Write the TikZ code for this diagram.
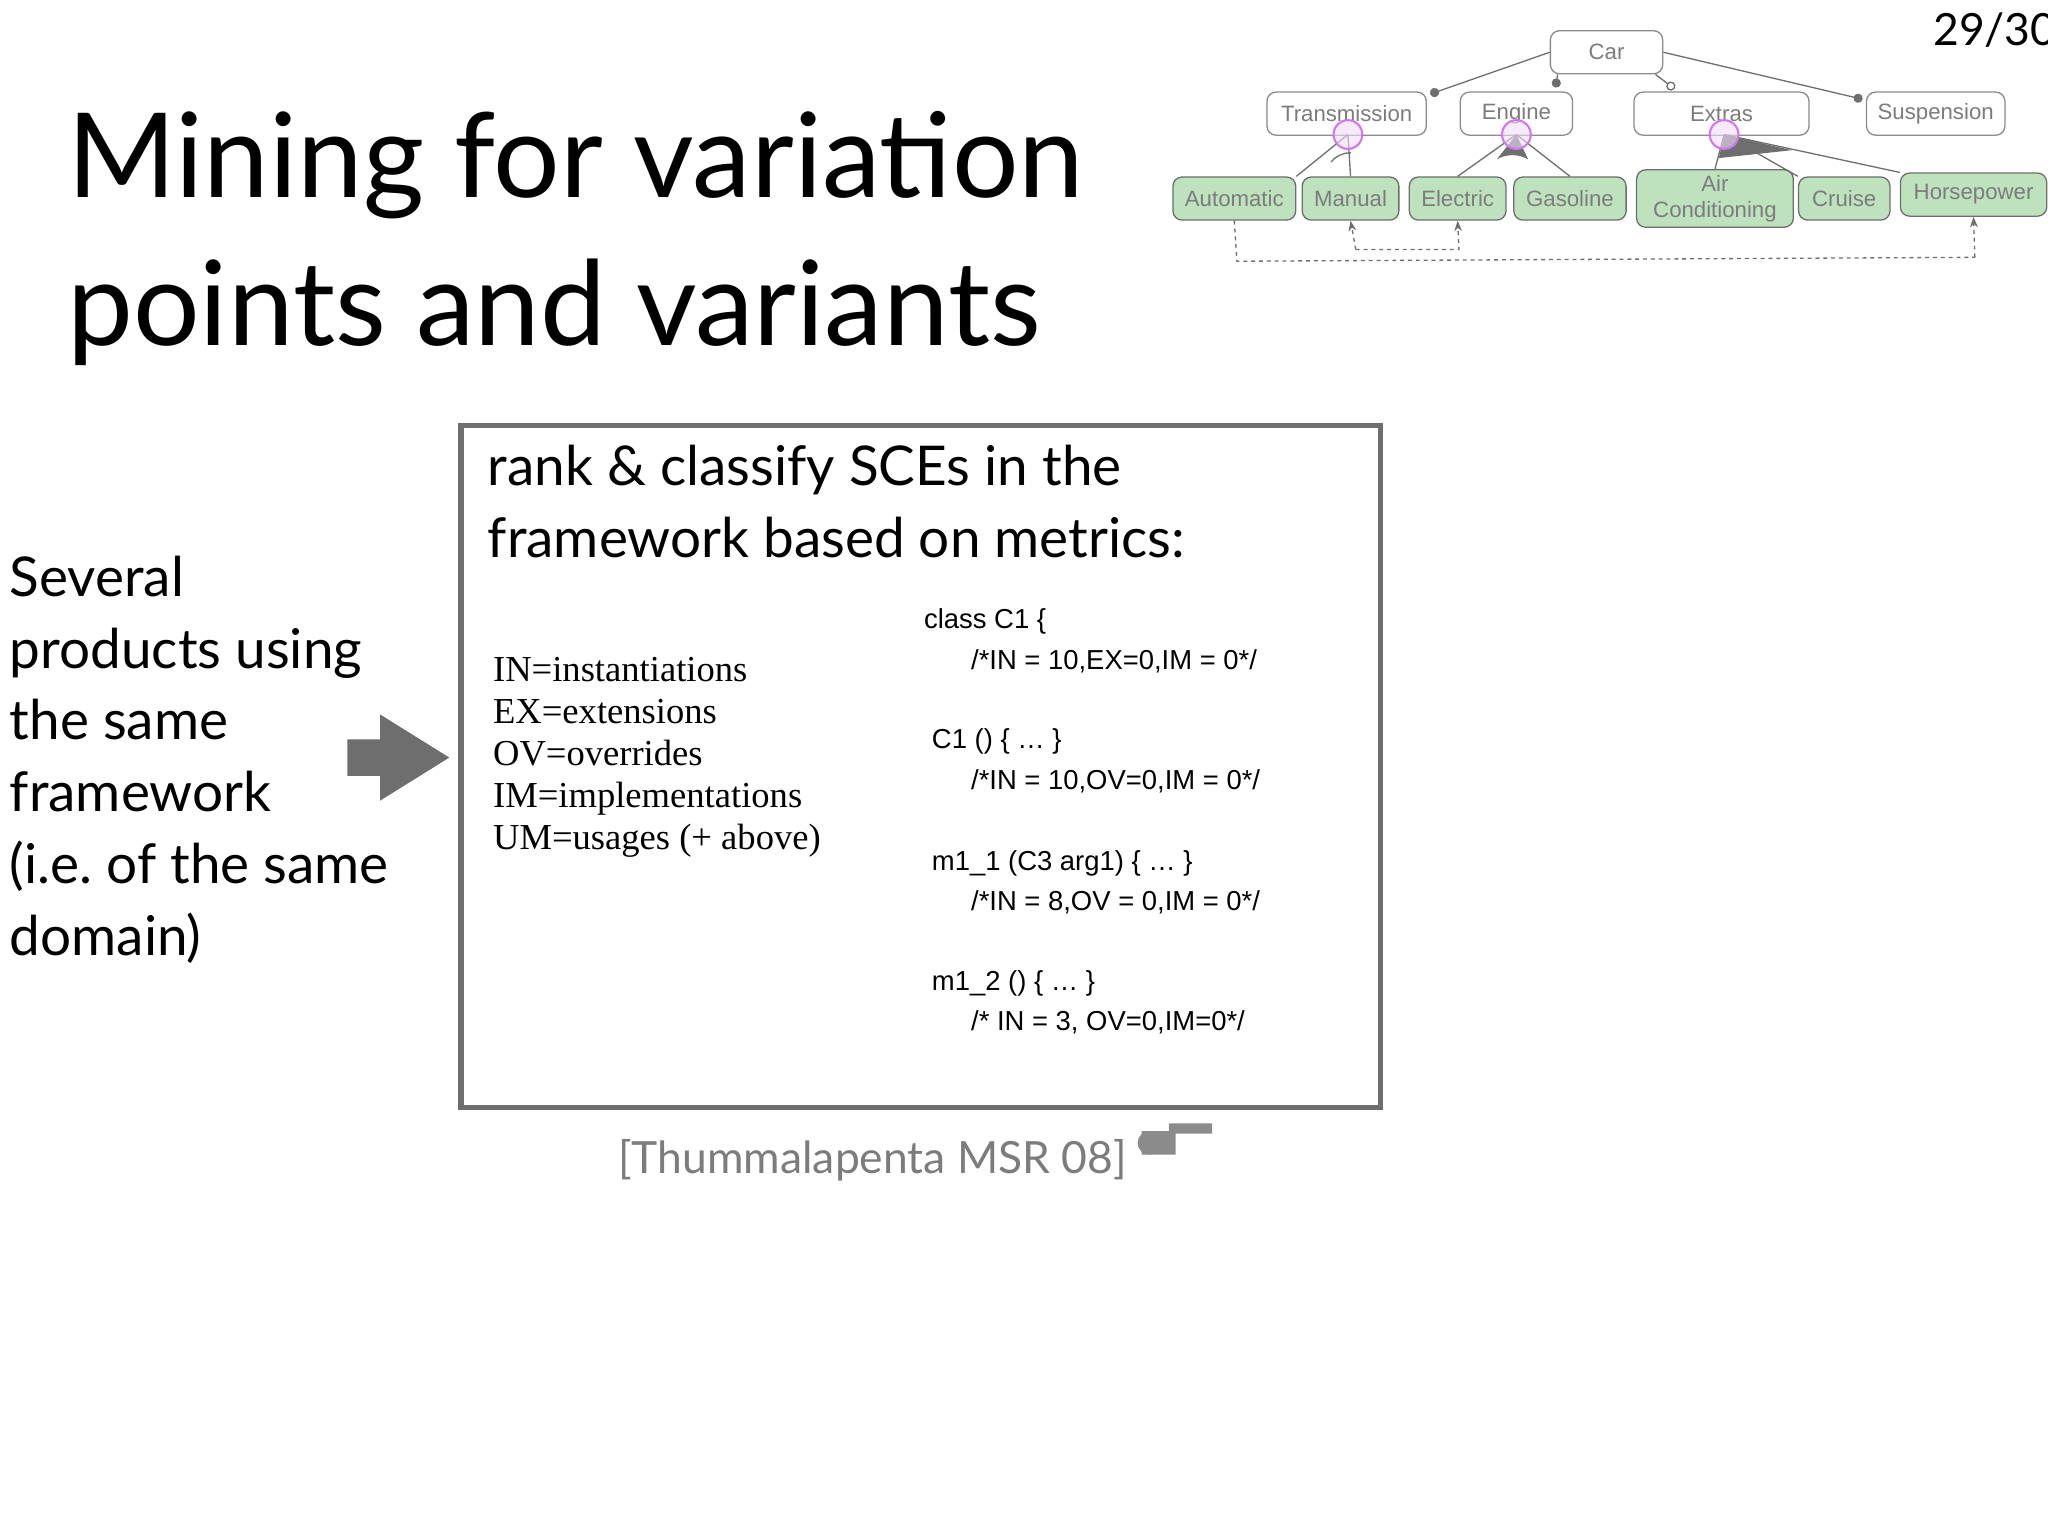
\documentclass[tikz,border=0pt]{standalone}
\usepackage{fontspec}
\setmainfont{Lato}
\newfontfamily\hv{Liberation Sans}
\newfontfamily\lmr{Liberation Serif}
\usetikzlibrary{arrows.meta}
\definecolor{fgray}{RGB}{110,110,110}
\definecolor{fgreen}{RGB}{190,225,190}
\definecolor{purp}{RGB}{205,120,240}
\tikzset{
 feat/.style={draw=fgray!80,rounded corners=7pt,fill=white,minimum height=33pt,inner xsep=6pt,font=\hv\fontsize{17}{18}\selectfont,text=fgray!90,line width=1pt},
 gfeat/.style={feat,fill=fgreen,draw=fgray,align=center},
 tl/.style={draw=fgray,line width=1pt},
 dl/.style={draw=fgray,dashed,line width=1pt},
 big/.style={font=\fontsize{42}{55}\selectfont,align=left,anchor=north west},
 code/.style={font=\hv\fontsize{21}{22}\selectfont,anchor=west},
}
\begin{document}
\begin{tikzpicture}[x=1pt,y=-1pt]
\useasboundingbox (0,0) rectangle (1568,1176);
\node[anchor=north east,font=\fontsize{34}{36}\selectfont] (pg) at (1578,6) {29/30};
\node[anchor=north west,font=\fontsize{90}{113}\selectfont,align=left] (title) at (48,82) {Mining for variation\\points and variants};
% feature tree
\node[feat,minimum width=86pt] (car) at (1230,40) {Car};
\node[feat,minimum width=122pt] (tr) at (1031,87) {Transmission};
\node[feat,minimum width=86pt] (en) at (1161,87) {Engine};
\node[feat,minimum width=134pt] (ex) at (1318,87) {Extras};
\node[feat,minimum width=106pt] (su) at (1482,87) {Suspension};
\node[gfeat,minimum width=94pt] (au) at (945,152) {Automatic};
\node[gfeat,minimum width=74pt] (ma) at (1034,152) {Manual};
\node[gfeat,minimum width=74pt] (el) at (1116,152) {Electric};
\node[gfeat,minimum width=86pt] (ga) at (1202,152) {Gasoline};
\node[gfeat,font=\hv\fontsize{17}{20}\selectfont,minimum height=44pt,minimum width=120pt] (ac) at (1313,152) {Air\\Conditioning};
\node[gfeat,minimum width=70pt] (cr) at (1412,152) {Cruise};
\node[gfeat,minimum width=112pt] (hp) at (1511,149) {Horsepower};
\draw[tl,-{Circle[length=7pt]}] (car.west) -- (1095,72);
\draw[tl,-{Circle[length=7pt]}] (car.south west) ++(6,0) -- (1191,67);
\draw[tl,-{Circle[open,length=7pt,fill=white]}] (car.south east) ++(-6,0) -- (1282,68);
\draw[tl,-{Circle[length=7pt]}] (car.east) -- (1426,76);
\coordinate (tp) at (1032,103); \coordinate (ep) at (1161,103); \coordinate (xp) at (1320,103);
\draw[tl] (tp) -- (au.north east) (tp) -- (ma.north);
\draw[tl] (1019,124) arc[start angle=220,end angle=270,radius=20];
\draw[tl] (ep) -- (el.north) (ep) -- (ga.north);
\fill[fgray] (ep) -- (1146,122) arc[start angle=240,end angle=300,radius=24] -- cycle;
\draw[tl] (xp) -- (ac.north) (xp) -- (cr.north west) (xp) -- (hp.north west);
\fill[fgray] (xp) -- (1316,121) -- (1372,115) -- cycle;
\foreach \p in {tp,ep,xp} \draw[purp,line width=1.6pt,fill=purp!25,fill opacity=0.6] (\p) circle (11);
\coordinate (d1) at (947,200); \coordinate (d2) at (1512,197);
\coordinate (d3) at (1038,191); \coordinate (d4) at (1117,191);
\draw[dl] (au.south) -- (d1) -- (d2);
\draw[dl,-{Stealth[length=8pt]}] (d2) -- (hp.south);
\draw[dl,-{Stealth[length=8pt]}] (d3) -- (ma.south);
\draw[dl,-{Stealth[length=8pt]}] (d3) -- (d4) -- (el.south);
% left text
\node[big] (sev) at (4,422) {Several\\products using\\the same\\framework\\(i.e.\ of the same\\domain)};
\fill[fgray] (266,566) -- (291,566) -- (291,547) -- (344,580) -- (291,613) -- (291,594) -- (266,594) -- cycle;
% main box
\draw[fgray,line width=4pt] (353,326) rectangle (1057,848);
\node[big] (hd) at (370,337) {rank \& classify SCEs in the\\framework based on metrics:};
\node[anchor=north west,font=\lmr\fontsize{28}{32}\selectfont,align=left] (met) at (374,500) {IN=instantiations\\EX=extensions\\OV=overrides\\IM=implementations\\UM=usages (+ above)};
\node[code] (c1) at (704,476) {class C1 \{};
\node[code] (c2) at (740,506) {/*IN = 10,EX=0,IM = 0*/};
\node[code] (c3) at (710,568) {C1 () \{ … \}};
\node[code] (c4) at (740,598) {/*IN = 10,OV=0,IM = 0*/};
\node[code] (c5) at (710,661) {m1\_1 (C3 arg1) \{ … \}};
\node[code] (c6) at (740,691) {/*IN = 8,OV = 0,IM = 0*/};
\node[code] (c7) at (710,753) {m1\_2 () \{ … \}};
\node[code] (c8) at (740,783) {/* IN = 3, OV=0,IM=0*/};
\node[font=\fontsize{34}{36}\selectfont,text=fgray!90] (cite) at (668,888) {[Thummalapenta MSR 08]};
\fill[fgray!80] (874,866) rectangle (900,884) (895,860) rectangle (928,868);
\fill[fgray!80] (880,875) circle (9);
\end{tikzpicture}
\end{document}
